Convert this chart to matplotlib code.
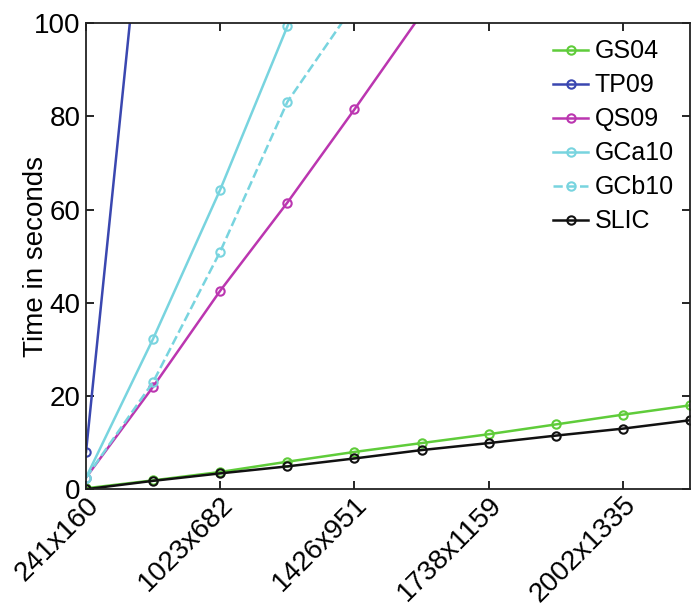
import numpy as np
import matplotlib.pyplot as plt

# image sizes (one point per size, tick label every second one)
tick_labels = ['241x160', '1023x682', '1426x951', '1738x1159', '2002x1335']
tick_idx = [0, 2, 4, 6, 8]

# time in seconds
gs04 = [0.2, 1.9, 3.7, 5.9, 8.0, 9.9, 11.8, 13.9, 16.0, 18.0]
tp09 = [8.0, 149.0]
qs09 = [2.5, 22.0, 42.6, 61.5, 81.5, 102.0]
gca10 = [2.5, 32.3, 64.3, 99.3, 133.0]
gcb10 = [2.5, 23.0, 51.0, 83.1, 104.0]
slic = [0.0, 1.8, 3.4, 4.9, 6.6, 8.4, 9.9, 11.5, 13.0, 14.8]

series = [
    ('GS04', gs04, '#5fcc3a', '-'),
    ('TP09', tp09, '#3a47b0', '-'),
    ('QS09', qs09, '#bb36b0', '-'),
    ('GCa10', gca10, '#78d4df', '-'),
    ('GCb10', gcb10, '#78d4df', '--'),
    ('SLIC', slic, '#111111', '-'),
]

plt.rcParams['font.family'] = ['Liberation Sans', 'DejaVu Sans']

fig = plt.figure(figsize=(6.91, 6.10), dpi=100)
ax = fig.add_axes([0.1245, 0.198, 0.874, 0.764])

for name, vals, col, ls in series:
    x = np.arange(len(vals))
    ax.plot(x, vals, color=col, linestyle=ls, linewidth=1.8,
            marker='o', markersize=6, markerfacecolor='none',
            markeredgecolor=col, markeredgewidth=1.5, label=name)

ax.set_xlim(0, 9)
ax.set_ylim(0, 100)
ax.set_xticks(tick_idx)
ax.set_xticklabels(tick_labels, rotation=45, ha='right', rotation_mode='anchor')
ax.set_yticks([0, 20, 40, 60, 80, 100])
ax.tick_params(direction='in', top=True, right=True, length=6, width=1.2,
               labelsize=20)
ax.tick_params(axis='y', pad=4)
ax.tick_params(axis='x', pad=2)
for s in ax.spines.values():
    s.set_linewidth(1.3)
    s.set_color('#222222')

ax.set_ylabel('Time in seconds', fontsize=20)
ax.yaxis.set_label_coords(-0.062, 0.5)

leg = ax.legend(loc='upper right', frameon=False, fontsize=18,
                handlelength=1.4, handletextpad=0.25, labelspacing=0.4,
                borderaxespad=0.25)

fig.savefig('out.png', dpi=100)
